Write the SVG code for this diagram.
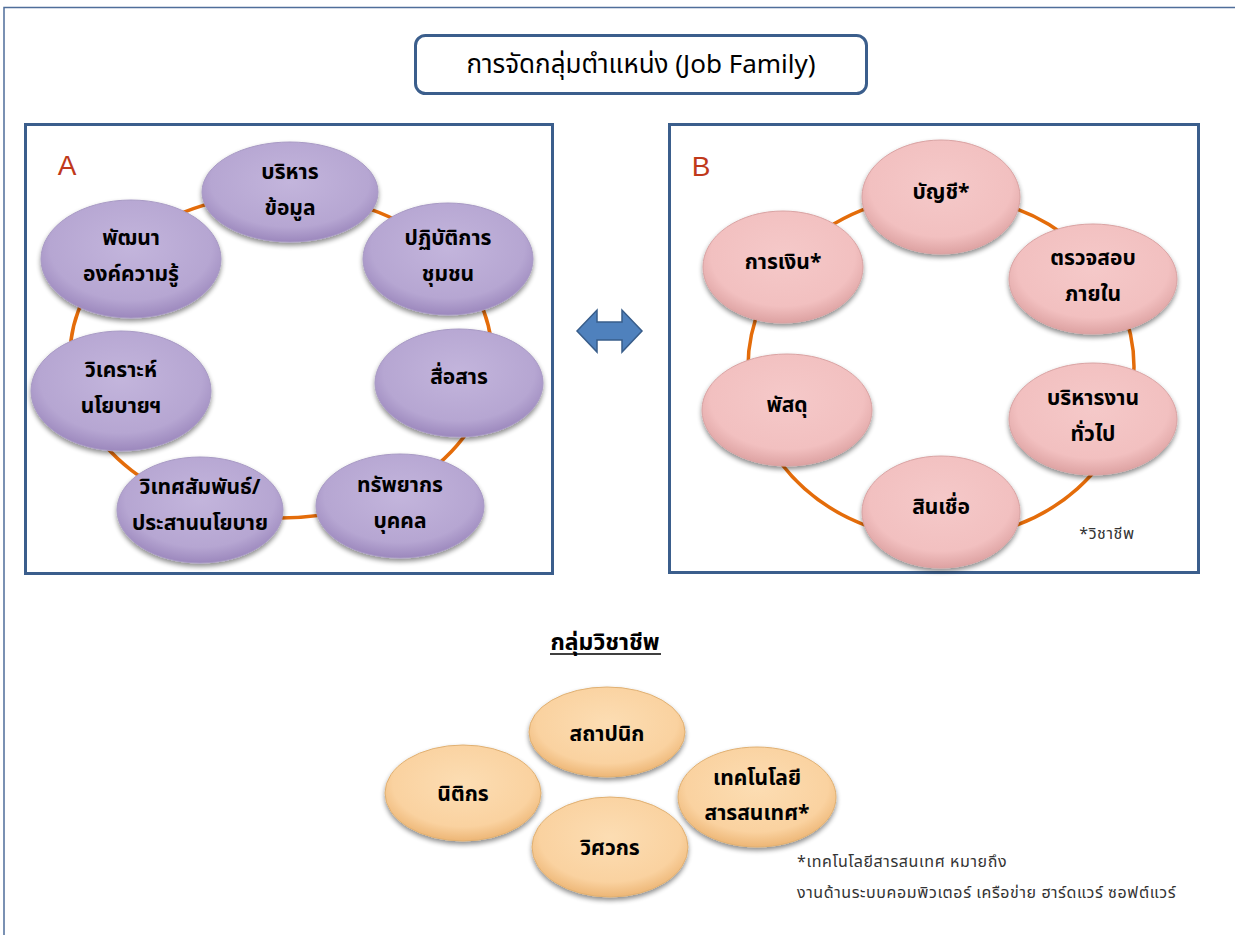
<svg xmlns="http://www.w3.org/2000/svg" width="1235" height="935" viewBox="0 0 1235 935">
<defs>
<style>
.t{font-family:"Noto Sans Thai","Tahoma","Noto Sans","DejaVu Sans",sans-serif;fill:#000;text-anchor:middle}
.n{font-size:21px;font-weight:bold}
.panel{fill:#fff;stroke:#3B5E8C;stroke-width:3}
.ring{fill:none;stroke:#E46C0A;stroke-width:3.5}
.pu{fill:url(#gPu);stroke:#A89AC4;stroke-width:1;filter:url(#sh)}
.pk{fill:url(#gPk);stroke:#D9A3A3;stroke-width:1;filter:url(#sh)}
.or{fill:url(#gOr);stroke:#E0B072;stroke-width:1;filter:url(#sh)}
.lab{font-family:"Liberation Sans","Noto Sans",sans-serif;font-size:28px;fill:#C0391B}
.note{font-family:"Noto Sans Thai","Tahoma","Noto Sans",sans-serif;font-size:16px;fill:#333;letter-spacing:0.6px}
</style>
<radialGradient id="gPu" cx="50%" cy="40%" r="60%">
<stop offset="0" stop-color="#C3B5DC"/><stop offset="0.75" stop-color="#B6A6D2"/><stop offset="1" stop-color="#9C88BD"/>
</radialGradient>
<radialGradient id="gPk" cx="50%" cy="40%" r="60%">
<stop offset="0" stop-color="#F5C9C9"/><stop offset="0.75" stop-color="#F2C0C0"/><stop offset="1" stop-color="#DDA2A2"/>
</radialGradient>
<radialGradient id="gOr" cx="50%" cy="40%" r="60%">
<stop offset="0" stop-color="#FCDDB3"/><stop offset="0.75" stop-color="#FAD2A0"/><stop offset="1" stop-color="#EDB676"/>
</radialGradient>
<filter id="sh" x="-20%" y="-20%" width="140%" height="150%">
<feGaussianBlur in="SourceAlpha" stdDeviation="2.5"/>
<feOffset dx="0" dy="3" result="b"/>
<feComponentTransfer><feFuncA type="linear" slope="0.45"/></feComponentTransfer>
<feMerge><feMergeNode/><feMergeNode in="SourceGraphic"/></feMerge>
</filter>
</defs>
<rect width="1235" height="935" fill="#fff"/>
<path d="M4 940 V7.5 H1240" fill="none" stroke="#4F6E9A" stroke-width="1.5"/>

<g id="title">
<rect x="415.5" y="35.5" width="451" height="58" rx="10" fill="#fff" stroke="#3B5E8C" stroke-width="3"/>
<text class="t" x="641" y="73" font-size="26">การจัดกลุ่มตำแหน่ง (Job Family)</text>
</g>

<g id="panelA">
<rect class="panel" x="25.5" y="124.5" width="527" height="449"/>
<text class="lab" x="67" y="175" text-anchor="middle">A</text>
</g>
<g id="panelB">
<rect class="panel" x="669.5" y="124.5" width="529" height="448"/>
<text class="lab" x="701" y="176" text-anchor="middle">B</text>
<text class="note" x="1107" y="539" text-anchor="middle">*วิชาชีพ</text>
</g>

<g id="connectors">
<ellipse class="ring" cx="281" cy="356" rx="211" ry="162"/>
<ellipse class="ring" cx="941" cy="367" rx="193" ry="172"/>
</g>

<g id="arrow">
<path d="M577 331 L597 310 V322 H622 V310 L642 331 L622 352 V340 H597 V352 Z" fill="#4F81BD" stroke="#385D8A" stroke-width="1.5"/>
</g>

<g id="a1"><ellipse class="pu" cx="290" cy="192" rx="88" ry="50"/><text class="t n" x="290" y="179">บริหาร</text><text class="t n" x="290" y="215">ข้อมูล</text></g>
<g id="a2"><ellipse class="pu" cx="448" cy="259" rx="85" ry="56"/><text class="t n" x="448" y="245">ปฏิบัติการ</text><text class="t n" x="448" y="281">ชุมชน</text></g>
<g id="a3"><ellipse class="pu" cx="459" cy="383" rx="84" ry="54"/><text class="t n" x="459" y="384">สื่อสาร</text></g>
<g id="a4"><ellipse class="pu" cx="400" cy="506" rx="84" ry="52"/><text class="t n" x="400" y="492">ทรัพยากร</text><text class="t n" x="400" y="528">บุคคล</text></g>
<g id="a5"><ellipse class="pu" cx="200" cy="510" rx="83" ry="53"/><text class="t n" x="200" y="494">วิเทศสัมพันธ์/</text><text class="t n" x="200" y="530">ประสานนโยบาย</text></g>
<g id="a6"><ellipse class="pu" cx="121" cy="391" rx="90" ry="60"/><text class="t n" x="121" y="377">วิเคราะห์</text><text class="t n" x="121" y="413">นโยบายฯ</text></g>
<g id="a7"><ellipse class="pu" cx="131" cy="259" rx="90" ry="59"/><text class="t n" x="131" y="245">พัฒนา</text><text class="t n" x="131" y="281">องค์ความรู้</text></g>

<g id="b1"><ellipse class="pk" cx="941" cy="197" rx="79" ry="57"/><text class="t n" x="941" y="199">บัญชี*</text></g>
<g id="b2"><ellipse class="pk" cx="1093" cy="279" rx="84" ry="55"/><text class="t n" x="1093" y="265">ตรวจสอบ</text><text class="t n" x="1093" y="301">ภายใน</text></g>
<g id="b3"><ellipse class="pk" cx="1093" cy="419" rx="84" ry="56"/><text class="t n" x="1093" y="405">บริหารงาน</text><text class="t n" x="1093" y="441">ทั่วไป</text></g>
<g id="b4"><ellipse class="pk" cx="941" cy="512" rx="79" ry="56"/><text class="t n" x="941" y="514">สินเชื่อ</text></g>
<g id="b5"><ellipse class="pk" cx="787" cy="410" rx="85" ry="56"/><text class="t n" x="787" y="412">พัสดุ</text></g>
<g id="b6"><ellipse class="pk" cx="783" cy="267" rx="80" ry="56"/><text class="t n" x="783" y="269">การเงิน*</text></g>

<g id="prof-title">
<text class="t" x="605" y="650" font-size="23" font-weight="bold">กลุ่มวิชาชีพ</text>
<line x1="550" y1="654" x2="661" y2="654" stroke="#000" stroke-width="1.5"/>
</g>
<g id="c1"><ellipse class="or" cx="607" cy="732" rx="78" ry="45"/><text class="t n" x="607" y="741">สถาปนิก</text></g>
<g id="c2"><ellipse class="or" cx="463" cy="793" rx="78" ry="48"/><text class="t n" x="463" y="801">นิติกร</text></g>
<g id="c3"><ellipse class="or" cx="610" cy="847" rx="78" ry="50"/><text class="t n" x="610" y="855">วิศวกร</text></g>
<g id="c4"><ellipse class="or" cx="757" cy="797" rx="79" ry="50"/><text class="t n" x="757" y="785">เทคโนโลยี</text><text class="t n" x="757" y="820">สารสนเทศ*</text></g>

<g id="footnote">
<text class="note" x="797" y="867" font-size="17">*เทคโนโลยีสารสนเทศ หมายถึง</text>
<text class="note" x="797" y="898" font-size="17">งานด้านระบบคอมพิวเตอร์ เครือข่าย ฮาร์ดแวร์ ซอฟต์แวร์</text>
</g>
</svg>
